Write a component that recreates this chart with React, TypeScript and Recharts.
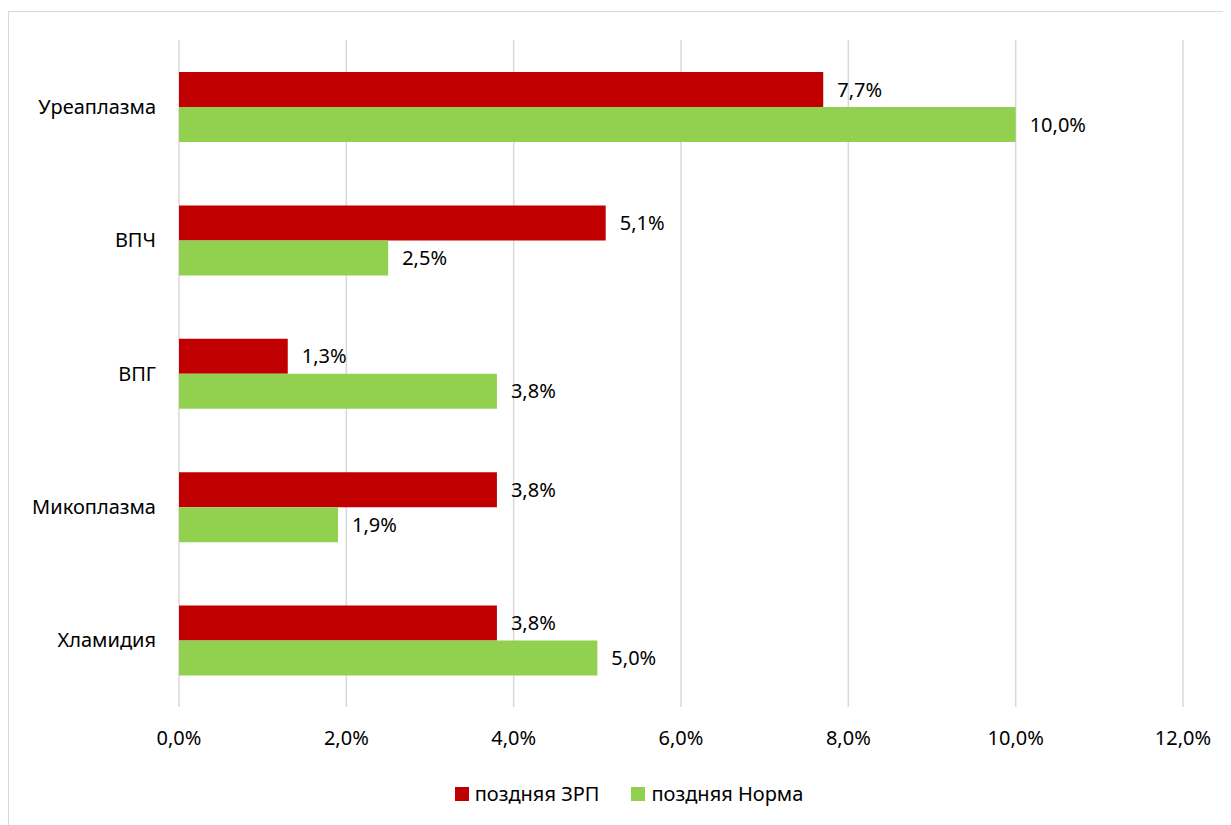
import { BarChart, Bar, XAxis, YAxis, CartesianGrid, Legend, LabelList } from 'recharts';

const categories = ['Уреаплазма', 'ВПЧ', 'ВПГ', 'Микоплазма', 'Хламидия'];
const zrpValues = [7.7, 5.1, 1.3, 3.8, 3.8];
const normValues = [10.0, 2.5, 3.8, 1.9, 5.0];
const xTicks = [0, 2, 4, 6, 8, 10, 12];

const SERIES = [
    { key: 'zrp', name: 'поздняя ЗРП', color: '#C00000' },
    { key: 'norm', name: 'поздняя Норма', color: '#92D050' },
];

const FONT = '"Noto Sans", sans-serif';
const FS = 20;

const fmt = (v: number) => v.toFixed(1).replace('.', ',') + '%';

function LegendContent() {
    return (
        <div
            style={{
                display: 'flex',
                justifyContent: 'center',
                gap: 32,
                paddingLeft: 66,
                fontFamily: FONT,
                fontSize: FS,
                color: '#000',
            }}
        >
            {SERIES.map((s) => (
                <div key={s.key} style={{ display: 'flex', alignItems: 'center', gap: 6 }}>
                    <span style={{ width: 14, height: 14, background: s.color, display: 'inline-block' }} />
                    <span>{s.name}</span>
                </div>
            ))}
        </div>
    );
}

export default function App() {
    const data = categories.map((name, i) => ({ name, zrp: zrpValues[i], norm: normValues[i] }));

    return (
        <div style={{ width: 1240, height: 840, marginTop: 3, border: '1px solid #d9d9d9', background: '#fff' }}>
            <BarChart
                width={1222}
                height={805}
                data={data}
                layout="vertical"
                barGap={0}
                margin={{ top: 28, right: 48, bottom: 10, left: 0 }}
            >
                <CartesianGrid horizontal={false} stroke="#d9d9d9" strokeWidth={1.5} />
                <XAxis
                    type="number"
                    domain={[0, 12]}
                    ticks={xTicks}
                    tickFormatter={fmt}
                    axisLine={false}
                    tickLine={false}
                    tickSize={0}
                    tickMargin={24}
                    height={73}
                    tick={{ fill: '#000', fontSize: FS, fontFamily: FONT }}
                />
                <YAxis
                    type="category"
                    dataKey="name"
                    width={170}
                    axisLine={false}
                    tickLine={false}
                    tickSize={0}
                    tickMargin={23}
                    tick={{ fill: '#000', fontSize: FS, fontFamily: FONT }}
                />
                <Legend verticalAlign="bottom" content={<LegendContent />} />
                {SERIES.map((s) => (
                    <Bar key={s.key} dataKey={s.key} name={s.name} fill={s.color} barSize={35} isAnimationActive={false}>
                        <LabelList
                            dataKey={s.key}
                            position="right"
                            offset={14}
                            formatter={(v: any) => fmt(Number(v))}
                            style={{ fill: '#000', fontSize: FS, fontFamily: FONT }}
                        />
                    </Bar>
                ))}
            </BarChart>
        </div>
    );
}
